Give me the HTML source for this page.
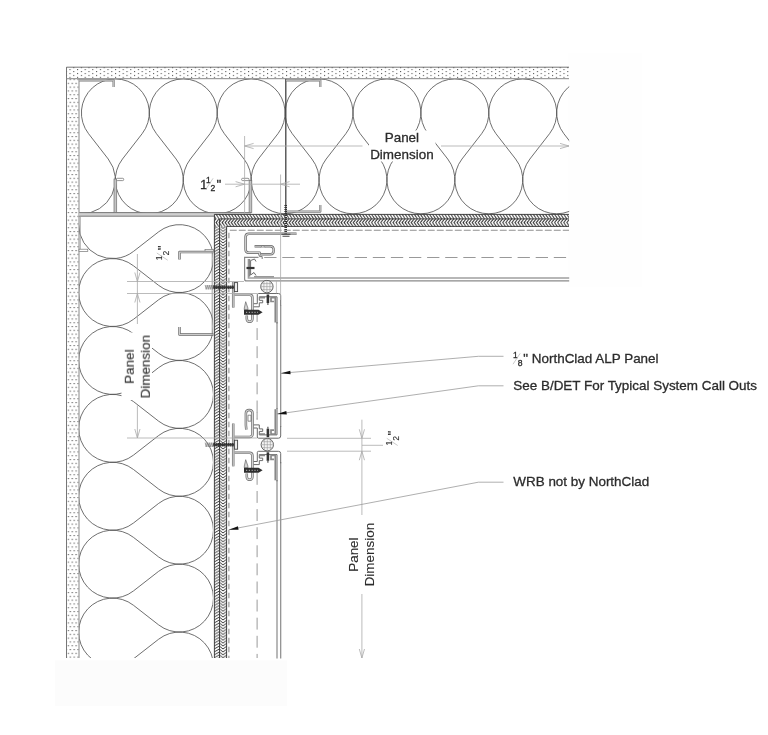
<!DOCTYPE html><html><head><meta charset="utf-8"><style>html,body{margin:0;padding:0;background:#fff}svg{display:block}text{font-family:"Liberation Sans",sans-serif;fill:#2b2b2b;stroke:#2b2b2b;stroke-width:0.3px}.r text{stroke-width:0.1px}</style></head><body>
<svg width="768" height="735" viewBox="0 0 768 735">
<defs>
<pattern id="dots" width="7.6" height="3.9" patternUnits="userSpaceOnUse" x="4.84" y="67.1">
<rect x="0" y="0" width="1.1" height="1.1" fill="#5a5a5a"/><rect x="3.8" y="1.95" width="1.1" height="1.1" fill="#5a5a5a"/>
</pattern>
<pattern id="dotsV" width="3.9" height="7.6" patternUnits="userSpaceOnUse" x="67.7" y="303.2">
<rect x="0" y="0" width="1.2" height="1.1" fill="#5a5a5a"/><rect x="1.95" y="3.8" width="1.2" height="1.1" fill="#5a5a5a"/>
</pattern>
<pattern id="hbH" width="3.05" height="12.6" patternUnits="userSpaceOnUse" x="213" y="214.2">
<path d="M-3.05 0 L0 4.7 L-3.05 8.3 L0 12.6 M0 0 L3.05 4.7 L0 8.3 L3.05 12.6 M3.05 0 L6.1 4.7 L3.05 8.3 L6.1 12.6" fill="none" stroke="#2a2a2a" stroke-width="0.95"/>
</pattern>
<pattern id="hbV" width="12.7" height="2.9" patternUnits="userSpaceOnUse" x="214.2" y="214">
<path d="M0 5.8 L5.2 2.9 L8.8 5.8 L12.7 2.9 M0 2.9 L5.2 0 L8.8 2.9 L12.7 0 M0 0 L5.2 -2.9 L8.8 0 L12.7 -2.9" fill="none" stroke="#2a2a2a" stroke-width="0.95"/>
</pattern>
<clipPath id="cTop"><rect x="79.5" y="79" width="489.7" height="135"/></clipPath>
<clipPath id="cLeft"><rect x="79.2" y="216" width="134" height="442"/></clipPath>
</defs>
<rect width="768" height="735" fill="#fff"/>
<rect x="568" y="53" width="74" height="234" fill="#fefefe"/>
<rect x="55" y="660.5" width="232" height="45.5" fill="#fcfcfc"/>
<rect x="66.5" y="67" width="502.5" height="11.7" fill="url(#dots)"/>
<rect x="67.2" y="79.2" width="11.6" height="578.8" fill="url(#dotsV)"/>
<path d="M569 67.2 H66.5 V658" fill="none" stroke="#666" stroke-width="0.9"/><path d="M569 78.7 H66.5 M79 78.7 V658" fill="none" stroke="#888" stroke-width="1"/>
<g clip-path="url(#cTop)"><path d="M81.40 213.80 A33.95 33.95 0 0 0 108.22 159.03 L88.53 133.67 A33.95 33.95 0 1 1 142.17 133.67 L122.48 159.03 A33.95 33.95 0 1 0 176.12 159.03 L156.43 133.67 A33.95 33.95 0 1 1 210.07 133.67 L190.38 159.03 A33.95 33.95 0 1 0 244.02 159.03 L224.33 133.67 A33.95 33.95 0 1 1 277.97 133.67 L258.28 159.03 A33.95 33.95 0 1 0 311.92 159.03 L292.23 133.67 A33.95 33.95 0 1 1 345.87 133.67 L326.18 159.03 A33.95 33.95 0 1 0 379.82 159.03 L360.13 133.67 A33.95 33.95 0 1 1 413.77 133.67 L394.08 159.03 A33.95 33.95 0 1 0 447.72 159.03 L428.03 133.67 A33.95 33.95 0 1 1 481.67 133.67 L461.98 159.03 A33.95 33.95 0 1 0 515.62 159.03 L495.93 133.67 A33.95 33.95 0 1 1 549.57 133.67 L529.88 159.03 A33.95 33.95 0 1 0 583.52 159.03 L563.83 133.67 A33.95 33.95 0 1 1 617.47 133.67 L597.78 159.03 A33.95 33.95 0 1 0 651.42 159.03 L631.73 133.67 A33.95 33.95 0 1 1 685.37 133.67 L665.68 159.03 A33.95 33.95 0 1 0 719.32 159.03" fill="none" stroke="#555" stroke-width="0.85"/></g>
<g clip-path="url(#cLeft)"><path d="M78.65 224.65 A33.95 33.95 0 0 0 133.47 251.43 L158.63 231.82 A33.95 33.95 0 1 1 158.63 285.38 L133.47 265.77 A33.95 33.95 0 1 0 133.47 319.33 L158.63 299.72 A33.95 33.95 0 1 1 158.63 353.28 L133.47 333.67 A33.95 33.95 0 1 0 133.47 387.23 L158.63 367.62 A33.95 33.95 0 1 1 158.63 421.18 L133.47 401.57 A33.95 33.95 0 1 0 133.47 455.13 L158.63 435.52 A33.95 33.95 0 1 1 158.63 489.08 L133.47 469.47 A33.95 33.95 0 1 0 133.47 523.03 L158.63 503.42 A33.95 33.95 0 1 1 158.63 556.98 L133.47 537.37 A33.95 33.95 0 1 0 133.47 590.93 L158.63 571.32 A33.95 33.95 0 1 1 158.63 624.88 L133.47 605.27 A33.95 33.95 0 1 0 133.47 658.83 L158.63 639.22 A33.95 33.95 0 1 1 158.63 692.78 L133.47 673.17 A33.95 33.95 0 1 0 133.47 726.73 L158.63 707.12 A33.95 33.95 0 1 1 158.63 760.68 L133.47 741.07 A33.95 33.95 0 1 0 133.47 794.63 L158.63 775.02 A33.95 33.95 0 1 1 158.63 828.58" fill="none" stroke="#555" stroke-width="0.85"/></g>
<rect x="79.2" y="212.7" width="172" height="2.2" fill="#cfcfcf"/>
<rect x="79.2" y="214.2" width="134.8" height="1.9" fill="#cfcfcf"/>
<path d="M79.2 212.6 H251.5 M79.2 216.2 H214" fill="none" stroke="#777" stroke-width="1"/>
<path d="M285.8 79 V214" fill="none" stroke="#444" stroke-width="1.3"/>
<path d="M286 80.3 H320.3 V87 M286 211.6 H320.3 V205" fill="none" stroke="#7a7a7a" stroke-width="2.20" stroke-linejoin="round"/><path d="M286 80.3 H320.3 V87 M286 211.6 H320.3 V205" fill="none" stroke="#cccccc" stroke-width="0.90" stroke-linejoin="round"/>
<path d="M79.2 80.3 H113.6 V87" fill="none" stroke="#7a7a7a" stroke-width="2.20" stroke-linejoin="round"/><path d="M79.2 80.3 H113.6 V87" fill="none" stroke="#cccccc" stroke-width="0.90" stroke-linejoin="round"/>
<rect x="114" y="179" width="2.7" height="33.6" fill="#c4c4c4" stroke="#707070" stroke-width="0.7"/>
<rect x="116.5" y="178.3" width="7.2" height="2.3" rx="1" fill="#fff" stroke="#666" stroke-width="0.7"/>
<rect x="249.1" y="180.6" width="2.7" height="32" fill="#c4c4c4" stroke="#707070" stroke-width="0.7"/>
<rect x="241.6" y="178.3" width="7.4" height="2.3" rx="1" fill="#fff" stroke="#666" stroke-width="0.7"/>
<path d="M80.3 216 V249.5" fill="none" stroke="#999" stroke-width="0.8"/>
<rect x="79" y="249.2" width="8.8" height="2.2" fill="#fff" stroke="#777" stroke-width="0.7"/>
<rect x="205" y="249.6" width="8.6" height="2" fill="#fff" stroke="#777" stroke-width="0.7"/>
<path d="M213.5 252.1 H179.5 V259.6 M213.5 334.5 H179.5 V327" fill="none" stroke="#6a6a6a" stroke-width="2.50" stroke-linejoin="round"/><path d="M213.5 252.1 H179.5 V259.6 M213.5 334.5 H179.5 V327" fill="none" stroke="#cccccc" stroke-width="1.20" stroke-linejoin="round"/>
<path d="M212.2 251.6 V335" fill="none" stroke="#888" stroke-width="0.8"/>
<rect x="214.2" y="214.2" width="354.8" height="12.6" fill="url(#hbH)"/>
<rect x="214.2" y="226.8" width="12.7" height="431.2" fill="url(#hbV)"/>
<path d="M569 214.4 H214.4 V658 M569 226.4 H226.6 V658 M569 218.9 H219.5 V658" fill="none" stroke="#333" stroke-width="0.9"/>
<path d="M229.8 230.2 H569" fill="none" stroke="#909090" stroke-width="1.1" stroke-dasharray="6.9 2.1"/>
<path d="M228.9 230.2 V658" fill="none" stroke="#909090" stroke-width="1.1" stroke-dasharray="5.5 3.5" stroke-dashoffset="6.4"/>
<path d="M264.2 257.5 H569" fill="none" stroke="#999" stroke-width="1" stroke-dasharray="12.3 5.8"/>
<path d="M257.1 314 V419.5" fill="none" stroke="#999" stroke-width="1" stroke-dasharray="11.9 6.2" stroke-dashoffset="4"/>
<path d="M257.1 412 V419.5" fill="none" stroke="#999" stroke-width="1"/>
<path d="M257.1 472.9 V658" fill="none" stroke="#999" stroke-width="1" stroke-dasharray="11.9 6.2"/>
<path d="M569.2 277.9 H248.4 V259" fill="none" stroke="#a0a0a0" stroke-width="1.5"/>
<path d="M569.2 280.9 H246.5 Q244.6 280.9 244.6 278.9 V257.4 H258.5" fill="none" stroke="#8a8a8a" stroke-width="1.2"/>
<path d="M277 322 V409" fill="none" stroke="#a0a0a0" stroke-width="1.5"/>
<path d="M280.7 305 V427" fill="none" stroke="#8a8a8a" stroke-width="1.2"/>
<path d="M277 480 V658.4" fill="none" stroke="#a0a0a0" stroke-width="1.5"/>
<path d="M280.7 462 V658.4" fill="none" stroke="#8a8a8a" stroke-width="1.2"/>
<path d="M233.2 282.0 V307.6" fill="none" stroke="#666" stroke-width="2.50" stroke-linejoin="round"/><path d="M233.2 282.0 V307.6" fill="none" stroke="#d4d4d4" stroke-width="1.20" stroke-linejoin="round"/>
<path d="M205.2 285.0 L206.2 289.4 L207.2 285.0 L208.2 289.4 L209.2 285.0 L210.2 289.4 L211.2 285.0 L212.2 289.4 L213.2 285.0 L214.2 289.4" fill="none" stroke="#777" stroke-width="0.7"/><path d="M213.5 287.2 H234" fill="none" stroke="#222" stroke-width="3.6" stroke-dasharray="1.3 0.7"/><path d="M213.5 287.2 H234" fill="none" stroke="#333" stroke-width="1.4"/><rect x="234.4" y="282.6" width="3.2" height="9" fill="#eee" stroke="#444" stroke-width="0.9"/>
<path d="M234.6 294.8 H249.6 Q252.4 294.8 252.4 297.7 V318.8 Q252.4 321.7 249.6 321.7 Q246.8 321.7 246.8 318.8 V315.5" fill="none" stroke="#666" stroke-width="2.50" stroke-linejoin="round"/><path d="M234.6 294.8 H249.6 Q252.4 294.8 252.4 297.7 V318.8 Q252.4 321.7 249.6 321.7 Q246.8 321.7 246.8 318.8 V315.5" fill="none" stroke="#d4d4d4" stroke-width="1.20" stroke-linejoin="round"/><path d="M245.7 301.7 L244.3 308.0 V309.9 H247.9 V308.0 Z" fill="#d4d4d4" stroke="#666" stroke-width="0.7"/><path d="M244 309.7 H258.5 L262.6 312.3 L258.5 314.8 H244 Z" fill="#2e2e2e"/><path d="M246 312.3 H258" fill="none" stroke="#bbb" stroke-width="1" stroke-dasharray="1.2 1.6"/>
<path d="M280.7 305.5 V295.7 Q280.7 293.5 278.4 293.5 H258.6 Q257.3 293.5 257.3 294.7 V303.7 H253.6" fill="none" stroke="#6a6a6a" stroke-width="1" stroke-linejoin="round"/><path d="M277 323.5 V296.8 H259.3 V300.3 H262.7 V302.8 H259.3 V306.8 H253.6" fill="none" stroke="#6a6a6a" stroke-width="1" stroke-linejoin="round"/><path d="M275.3 297.5 V322.5" fill="none" stroke="#888" stroke-width="1.7"/><path d="M259.5 297.6 H265 M270.3 297.6 H276 M271 298.0 V301.5 H274" fill="none" stroke="#888" stroke-width="1.7"/><path d="M267.9 294.5 V303.0" fill="none" stroke="#333" stroke-width="2.6"/><path d="M267.9 303.0 V305.0" fill="none" stroke="#555" stroke-width="1.2"/>
<circle cx="266.9" cy="286.6" r="6.2" fill="#f4f4f4" stroke="#555" stroke-width="0.9"/><path d="M263.9 281.3 v10.6 M266.9 280.4 v12.4 M269.9 281.3 v10.6 M261.6 283.6 h10.6 M260.7 286.6 h12.4 M261.6 289.6 h10.6" fill="none" stroke="#999" stroke-width="0.6"/>
<path d="M233.2 423.5 V465.3" fill="none" stroke="#666" stroke-width="2.50" stroke-linejoin="round"/><path d="M233.2 423.5 V465.3" fill="none" stroke="#d4d4d4" stroke-width="1.20" stroke-linejoin="round"/>
<path d="M233.2 466.3 V465.3" fill="none" stroke="#666" stroke-width="2.50" stroke-linejoin="round"/><path d="M233.2 466.3 V465.3" fill="none" stroke="#d4d4d4" stroke-width="1.20" stroke-linejoin="round"/>
<path d="M205.2 442.6 L206.2 447.0 L207.2 442.6 L208.2 447.0 L209.2 442.6 L210.2 447.0 L211.2 442.6 L212.2 447.0 L213.2 442.6 L214.2 447.0" fill="none" stroke="#777" stroke-width="0.7"/><path d="M213.5 444.8 H234" fill="none" stroke="#222" stroke-width="3.6" stroke-dasharray="1.3 0.7"/><path d="M213.5 444.8 H234" fill="none" stroke="#333" stroke-width="1.4"/><rect x="234.4" y="440.2" width="3.2" height="9" fill="#eee" stroke="#444" stroke-width="0.9"/>
<path d="M234.6 436.9 H249.6 Q252.5 436.9 252.5 434.0 V413.4 Q252.5 410.0 249.2 410.0 Q245.9 410.0 245.9 413.4 V425.2 L246.3 429.7" fill="none" stroke="#666" stroke-width="2.50" stroke-linejoin="round"/><path d="M234.6 436.9 H249.6 Q252.5 436.9 252.5 434.0 V413.4 Q252.5 410.0 249.2 410.0 Q245.9 410.0 245.9 413.4 V425.2 L246.3 429.7" fill="none" stroke="#d4d4d4" stroke-width="1.20" stroke-linejoin="round"/><path d="M248 415.2 H251 V421.2 H248 Z" fill="#fff" stroke="#666" stroke-width="0.7"/>
<path d="M234.6 452.8 H249.6 Q252.4 452.8 252.4 455.7 V476.8 Q252.4 479.7 249.6 479.7 Q246.8 479.7 246.8 476.8 V473.5" fill="none" stroke="#666" stroke-width="2.50" stroke-linejoin="round"/><path d="M234.6 452.8 H249.6 Q252.4 452.8 252.4 455.7 V476.8 Q252.4 479.7 249.6 479.7 Q246.8 479.7 246.8 476.8 V473.5" fill="none" stroke="#d4d4d4" stroke-width="1.20" stroke-linejoin="round"/><path d="M245.7 459.7 L244.3 466.0 V467.9 H247.9 V466.0 Z" fill="#d4d4d4" stroke="#666" stroke-width="0.7"/><path d="M244 467.7 H258.5 L262.6 470.3 L258.5 472.8 H244 Z" fill="#2e2e2e"/><path d="M246 470.3 H258" fill="none" stroke="#bbb" stroke-width="1" stroke-dasharray="1.2 1.6"/>
<path d="M280.7 426.2 V436.0 Q280.7 438.2 278.4 438.2 H258.6 Q257.3 438.2 257.3 437.0 V428.0 H253.6" fill="none" stroke="#6a6a6a" stroke-width="1" stroke-linejoin="round"/><path d="M277 408.2 V434.9 H259.3 V431.4 H262.7 V428.9 H259.3 V424.9 H253.6" fill="none" stroke="#6a6a6a" stroke-width="1" stroke-linejoin="round"/><path d="M275.3 434.2 V409.2" fill="none" stroke="#888" stroke-width="1.7"/><path d="M259.5 434.1 H265 M270.3 434.1 H276 M271 433.7 V430.2 H274" fill="none" stroke="#888" stroke-width="1.7"/><path d="M267.9 437.2 V428.7" fill="none" stroke="#333" stroke-width="2.6"/><path d="M267.9 428.7 V426.7" fill="none" stroke="#555" stroke-width="1.2"/>
<path d="M280.7 463.3 V453.5 Q280.7 451.3 278.4 451.3 H258.6 Q257.3 451.3 257.3 452.5 V461.5 H253.6" fill="none" stroke="#6a6a6a" stroke-width="1" stroke-linejoin="round"/><path d="M277 481.3 V454.6 H259.3 V458.1 H262.7 V460.6 H259.3 V464.6 H253.6" fill="none" stroke="#6a6a6a" stroke-width="1" stroke-linejoin="round"/><path d="M275.3 455.3 V480.3" fill="none" stroke="#888" stroke-width="1.7"/><path d="M259.5 455.4 H265 M270.3 455.4 H276 M271 455.8 V459.3 H274" fill="none" stroke="#888" stroke-width="1.7"/><path d="M267.9 452.3 V460.8" fill="none" stroke="#333" stroke-width="2.6"/><path d="M267.9 460.8 V462.8" fill="none" stroke="#555" stroke-width="1.2"/>
<circle cx="267.3" cy="444.7" r="6.2" fill="#f4f4f4" stroke="#555" stroke-width="0.9"/><path d="M264.3 439.4 v10.6 M267.3 438.5 v12.4 M270.3 439.4 v10.6 M262.0 441.7 h10.6 M261.1 444.7 h12.4 M262.0 447.7 h10.6" fill="none" stroke="#999" stroke-width="0.6"/>
<path d="M276.4 280.6 V293.5" fill="none" stroke="#aaa" stroke-width="0.7"/>
<path d="M296.5 233.8 H248.9 Q245.6 233.8 245.6 237 V249.5 Q245.6 252.7 248.9 252.7 H259.6 V255.4" fill="none" stroke="#666" stroke-width="2.50" stroke-linejoin="round"/><path d="M296.5 233.8 H248.9 Q245.6 233.8 245.6 237 V249.5 Q245.6 252.7 248.9 252.7 H259.6 V255.4" fill="none" stroke="#d0d0d0" stroke-width="1.20" stroke-linejoin="round"/>
<path d="M254.6 246.3 H270.2 Q273.7 246.3 273.7 250.3 Q273.7 254.3 270.2 254.3 H260.8" fill="none" stroke="#666" stroke-width="2.40" stroke-linejoin="round"/><path d="M254.6 246.3 H270.2 Q273.7 246.3 273.7 250.3 Q273.7 254.3 270.2 254.3 H260.8" fill="none" stroke="#d0d0d0" stroke-width="1.10" stroke-linejoin="round"/>
<path d="M261 247.3 Q262.9 244.2 264.8 247.3" fill="#fff" stroke="#666" stroke-width="0.7"/>
<path d="M259.6 255.4 V256.6 H262.2 V259" fill="none" stroke="#6a6a6a" stroke-width="0.9"/>
<path d="M250.6 260.5 V275 M250.6 260.5 L254.5 259 L256 261.5 M250.6 275 L254 272.5 L256 275.5" fill="none" stroke="#6a6a6a" stroke-width="1" stroke-linejoin="round"/>
<path d="M249.4 259 V276.6" fill="none" stroke="#888" stroke-width="1.7"/>
<path d="M254 276.8 H274" fill="none" stroke="#999" stroke-width="1.6"/>
<path d="M246.5 268 H254.5" fill="none" stroke="#333" stroke-width="2.2"/>
<path d="M285.7 205 V233.5" fill="none" stroke="#333" stroke-width="2.6" stroke-dasharray="1.1 0.9"/>
<path d="M281.5 234.3 H290.5 M282.5 236.3 H289.5" fill="none" stroke="#444" stroke-width="1.1"/>
<rect x="369" y="130.5" width="66.5" height="31" fill="#fff"/>
<rect x="121.5" y="332.5" width="30.5" height="67.5" fill="#fff"/>
<rect x="153.5" y="243.5" width="17" height="17.5" fill="#fff"/>
<rect x="198.5" y="177" width="24" height="15.5" fill="#fff"/>
<path d="M244.6 136 V214 M280.6 174.5 V300 M244.6 146 H362.5 M441 146 H569 M253.6 143.4 L244.6 146.0 L253.6 148.6 M560.0 148.6 L569.0 146.0 L560.0 143.4 M225 184.2 H300 M235.6 186.8 L244.6 184.2 L235.6 181.6 M289.6 181.6 L280.6 184.2 L289.6 186.8 M127 281.5 H244 M127 293.5 H257 M127 438 H257 M137.4 254 V324 M137.4 405.5 V438 M134.8 272.5 L137.4 281.5 L140.0 272.5 M140.0 302.5 L137.4 293.5 L134.8 302.5 M134.8 429.0 L137.4 438.0 L140.0 429.0 M287 438.3 H371 M287 451.2 H371 M362 445.3 H383 M361.9 419.7 V515 M361.9 594 V658 M359.3 429.3 L361.9 438.3 L364.5 429.3 M364.5 460.2 L361.9 451.2 L359.3 460.2 M359.3 649.0 L361.9 658.0 L364.5 649.0" fill="none" stroke="#aaa" stroke-width="0.8"/>
<path d="M281 373.3 L478.4 356.3 H503.5 M277.1 414.1 L478.4 385.8 H503.5 M228.9 529.7 L478.4 482.2 H503.5" fill="none" stroke="#9a9a9a" stroke-width="0.8"/>
<path d="M281.0 373.3 L290.6 374.3 L290.3 370.7 Z" fill="#111"/>
<path d="M277.1 414.1 L286.8 414.6 L286.3 411.0 Z" fill="#111"/>
<path d="M228.9 529.7 L238.6 529.7 L237.9 526.2 Z" fill="#111"/>
<g style="opacity:0.995">
<text x="401.9" y="142.1" font-size="13.45" text-anchor="middle">Panel</text>
<text x="401.9" y="158.7" font-size="13.45" text-anchor="middle">Dimension</text>
<g class="r" transform="translate(133.8 366.6) rotate(-90)"><text x="0" y="0" font-size="13.45" text-anchor="middle">Panel</text><text x="0" y="16.3" font-size="13.45" text-anchor="middle">Dimension</text></g>
<g class="r" transform="translate(357.8 554.6) rotate(-90)"><text x="0" y="0" font-size="13.45" text-anchor="middle">Panel</text><text x="0" y="16.3" font-size="13.45" text-anchor="middle">Dimension</text></g>
<g transform="translate(513.3 363.3)"><text x="-0.3" y="-5.0" font-size="8.6">1</text><path d="M-0.3 0.9 L6.9 -10.0" stroke="#bbb" stroke-width="0.8"/><text x="4.4" y="2.2" font-size="8.6">8</text><text x="10" y="0" font-size="13.45">&quot; NorthClad ALP Panel</text></g>
<text x="513.3" y="389.5" font-size="13.45">See B/DET For Typical System Call Outs</text>
<text x="513.3" y="486" font-size="13.45">WRB not by NorthClad</text>
<g transform="translate(199.9 189.0)"><text x="0" y="0" font-size="13.45">1</text><text x="6.0" y="-5.7" font-size="8.6">1</text><path d="M6.0 0.2 L13.2 -10.7" stroke="#bbb" stroke-width="0.8"/><text x="10.7" y="1.5" font-size="8.6">2</text><text x="16.7" y="0" font-size="13.45">&quot;</text></g>
<g class="r" transform="translate(166.8 259.9) rotate(-90)"><text x="-0.3" y="-5.0" font-size="8.6">1</text><path d="M-0.3 0.9 L6.9 -10.0" stroke="#bbb" stroke-width="0.8"/><text x="4.4" y="2.2" font-size="8.6">2</text><text x="9.6" y="-0.1" font-size="13.45">&quot;</text></g>
<g class="r" transform="translate(396.8 445.2) rotate(-90)"><text x="-0.3" y="-5.0" font-size="8.6">1</text><path d="M-0.3 0.9 L6.9 -10.0" stroke="#bbb" stroke-width="0.8"/><text x="4.4" y="2.2" font-size="8.6">2</text><text x="9.6" y="-0.1" font-size="13.45">&quot;</text></g>
</g>
</svg></body></html>
